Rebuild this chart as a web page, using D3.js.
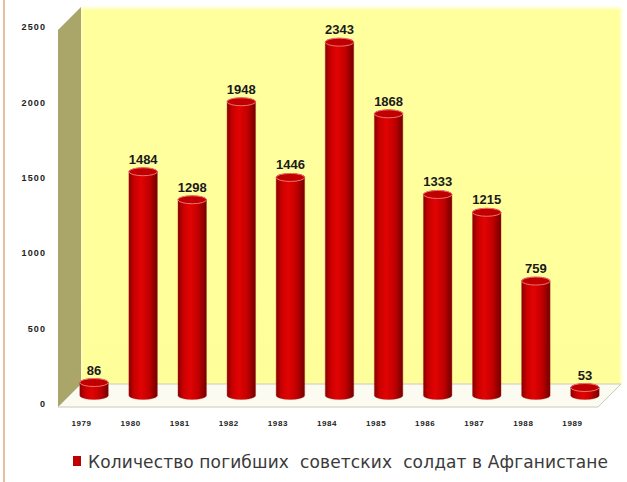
<!DOCTYPE html>
<html>
<head>
<meta charset="utf-8">
<script src="https://cdn.jsdelivr.net/npm/d3@7"></script>
<style>
  body { margin: 0; background: #fff; }
  svg { display: block; }
</style>
</head>
<body>
<div id="chart"></div>
<script>
var years = ["1979", "1980", "1981", "1982", "1983", "1984", "1985", "1986", "1987", "1988", "1989"];
var deaths = [86, 1484, 1298, 1948, 1446, 2343, 1868, 1333, 1215, 759, 53];
var yTicks = [0, 500, 1000, 1500, 2000, 2500];
var legendLabel = "Количество погибших  советских  солдат в Афганистане";

var width = 627, height = 482;
var plotLeft = 58, plotRight = 598, plotBottom = 407, plotTop = 30;
var depth = 23;

var svg = d3.select("#chart")
  .append("svg")
  .attr("width", width)
  .attr("height", height);

var defs = svg.append("defs");

var wallGrad = defs.append("linearGradient")
  .attr("id", "wall").attr("x1", 0).attr("y1", 0).attr("x2", 0).attr("y2", 1);
wallGrad.append("stop").attr("offset", "0%").attr("stop-color", "#ffff9e");
wallGrad.append("stop").attr("offset", "100%").attr("stop-color", "#fefe9a");

var barGrad = defs.append("linearGradient")
  .attr("id", "bar").attr("x1", 0).attr("y1", 0).attr("x2", 1).attr("y2", 0);
barGrad.append("stop").attr("offset", "0%").attr("stop-color", "#870000");
barGrad.append("stop").attr("offset", "18%").attr("stop-color", "#c80000");
barGrad.append("stop").attr("offset", "42%").attr("stop-color", "#e20303");
barGrad.append("stop").attr("offset", "72%").attr("stop-color", "#c00000");
barGrad.append("stop").attr("offset", "100%").attr("stop-color", "#720000");

defs.append("filter").attr("id", "soft")
  .append("feGaussianBlur").attr("stdDeviation", 1.5);

// left border line
svg.append("line")
  .attr("x1", 4).attr("x2", 4).attr("y1", 0).attr("y2", height)
  .attr("stroke", "#e3a97a").attr("stroke-width", 1.5);

var x = d3.scaleBand()
  .domain(years)
  .range([plotLeft, plotRight])
  .paddingInner(0.42)
  .paddingOuter(0.21);

var y = d3.scaleLinear()
  .domain([0, 2500])
  .range([plotBottom, plotTop]);

// back wall
svg.append("rect")
  .attr("x", plotLeft + depth).attr("y", plotTop - depth + 1)
  .attr("width", plotRight - plotLeft).attr("height", plotBottom - plotTop)
  .attr("fill", "url(#wall)")
  .attr("filter", "url(#soft)");

// side wall
svg.append("path")
  .attr("d", "M" + plotLeft + "," + plotTop + "L" + (plotLeft + depth) + "," + (plotTop - depth) +
    "L" + (plotLeft + depth) + "," + (plotBottom - depth) + "L" + plotLeft + "," + plotBottom + "Z")
  .attr("fill", "#aaa66a");

// floor
svg.append("path")
  .attr("d", "M" + plotLeft + "," + plotBottom + "L" + (plotLeft + depth) + "," + (plotBottom - depth) +
    "L" + (plotRight + depth) + "," + (plotBottom - depth) + "L" + plotRight + "," + plotBottom + "Z")
  .attr("fill", "#fbfbf2")
  .attr("stroke", "#c9c9b8")
  .attr("stroke-width", 1);

// y axis labels
svg.append("g")
  .selectAll("text")
  .data(yTicks)
  .enter()
  .append("text")
  .attr("x", 46)
  .attr("y", function (d) { return y(d) - 3; })
  .attr("dy", "0.35em")
  .attr("text-anchor", "end")
  .style("font-family", "Liberation Sans, Arial, sans-serif")
  .style("font-size", "9px")
  .style("font-weight", "bold")
  .style("letter-spacing", "1.1px")
  .attr("fill", "#222")
  .text(function (d) { return d; });

// x axis labels
svg.append("g")
  .selectAll("text")
  .data(years)
  .enter()
  .append("text")
  .attr("x", function (d) { return x(d) + x.bandwidth() / 2 - 1; })
  .attr("y", 426)
  .attr("text-anchor", "middle")
  .style("font-family", "Liberation Sans, Arial, sans-serif")
  .style("font-size", "8px")
  .style("font-weight", "bold")
  .style("letter-spacing", "0.6px")
  .attr("fill", "#222")
  .text(function (d) { return d; });

// bars (cylinders set half way back)
var off = depth / 2;
var ry = 4;
var bars = svg.append("g")
  .selectAll("g")
  .data(years.map(function (yr, i) { return { year: yr, value: deaths[i] }; }))
  .enter()
  .append("g");

bars.append("path")
  .attr("d", function (d) {
    var x0 = x(d.year) + off, x1 = x0 + x.bandwidth();
    var b = y(0) - off, t = y(d.value) - off;
    var rx = x.bandwidth() / 2;
    return "M" + x0 + "," + t + "L" + x0 + "," + b +
      "A" + rx + "," + ry + " 0 0 0 " + x1 + "," + b +
      "L" + x1 + "," + t +
      "A" + rx + "," + ry + " 0 0 0 " + x0 + "," + t + "Z";
  })
  .attr("fill", "url(#bar)")
  .attr("stroke", "#b02020")
  .attr("stroke-opacity", 0.4)
  .attr("stroke-width", 1);

bars.append("ellipse")
  .attr("cx", function (d) { return x(d.year) + off + x.bandwidth() / 2; })
  .attr("cy", function (d) { return y(d.value) - off; })
  .attr("rx", function () { return x.bandwidth() / 2; })
  .attr("ry", ry)
  .attr("fill", "#c00000")
  .attr("stroke", "#f07070")
  .attr("stroke-width", 1);

bars.append("text")
  .attr("x", function (d) { return x(d.year) + off + x.bandwidth() / 2; })
  .attr("y", function (d) { return y(d.value) - off - ry - 4; })
  .attr("text-anchor", "middle")
  .style("font-family", "Liberation Sans, Arial, sans-serif")
  .style("font-size", "13px")
  .style("font-weight", "bold")
  .attr("fill", "#1a1a1a")
  .text(function (d) { return d.value; });

// legend
svg.append("rect")
  .attr("x", 73).attr("y", 456)
  .attr("width", 8).attr("height", 10)
  .attr("fill", "#c00000");

svg.append("text")
  .attr("x", 88)
  .attr("y", 468)
  .style("font-family", "DejaVu Sans, Verdana, sans-serif")
  .style("font-size", "17px")
  .attr("fill", "#3a3a3a")
  .attr("textLength", 520)
  .attr("lengthAdjust", "spacing")
  .style("white-space", "pre")
  .text(legendLabel);
</script>
</body>
</html>
